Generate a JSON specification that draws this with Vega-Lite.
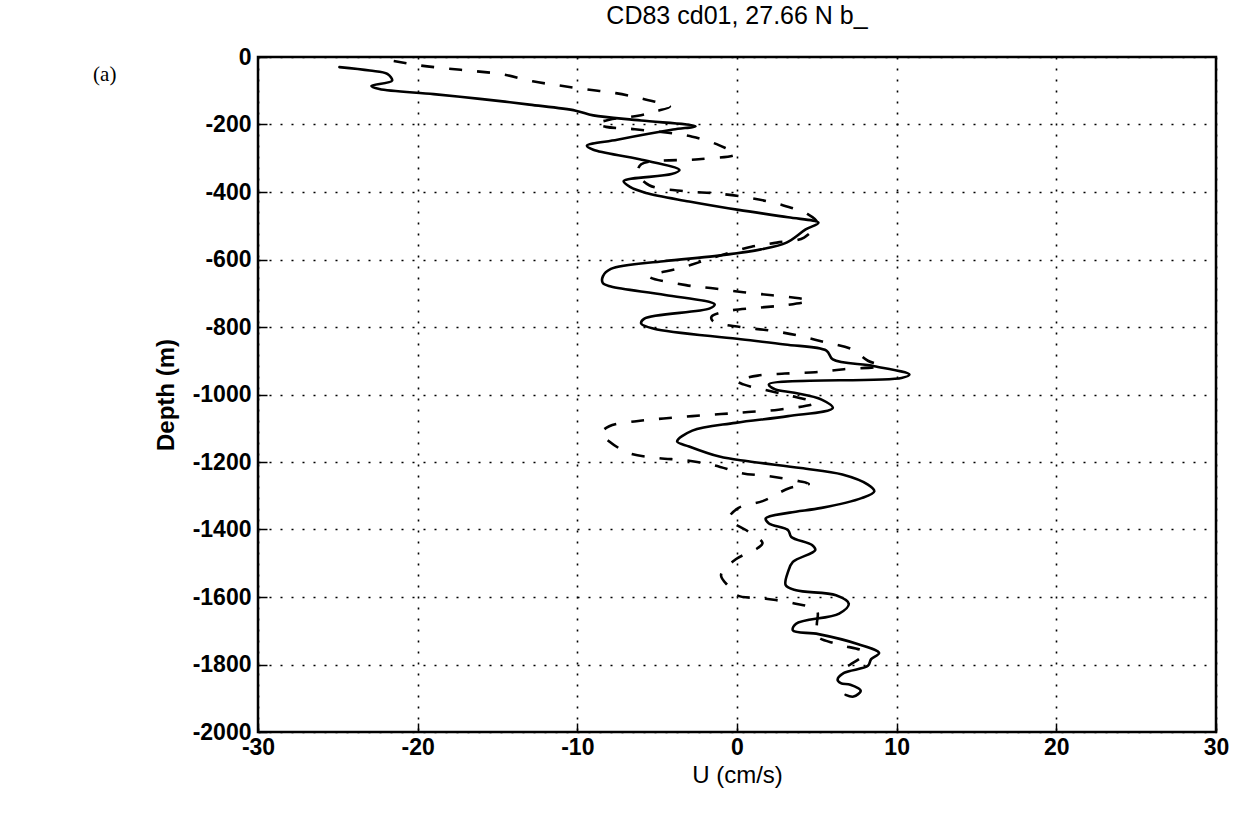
{
  "$schema": "https://vega.github.io/schema/vega-lite/v6.json",
  "autosize": "none",
  "width": 958,
  "height": 675,
  "padding": {"left": 258, "top": 57, "right": 25, "bottom": 81},
  "background": "white",
  "config": {
    "view": {"stroke": "black", "strokeWidth": 2.5},
    "font": "Liberation Sans"
  },
  "title": {
    "text": "CD83 cd01, 27.66 N b_",
    "font": "Liberation Sans",
    "fontSize": 25,
    "fontWeight": "normal",
    "color": "black",
    "anchor": "middle",
    "frame": "group",
    "baseline": "bottom",
    "offset": -8
  },
  "datasets": {
    "profiles": [
      {"series": "solid", "u": -24.9, "depth": -30},
      {"series": "solid", "u": -23.0, "depth": -40},
      {"series": "solid", "u": -21.9, "depth": -50},
      {"series": "solid", "u": -21.6, "depth": -70},
      {"series": "solid", "u": -22.9, "depth": -86},
      {"series": "solid", "u": -22.4, "depth": -95},
      {"series": "solid", "u": -19.0, "depth": -110},
      {"series": "solid", "u": -16.1, "depth": -124},
      {"series": "solid", "u": -13.0, "depth": -141},
      {"series": "solid", "u": -10.1, "depth": -159},
      {"series": "solid", "u": -9.0, "depth": -173},
      {"series": "solid", "u": -6.0, "depth": -188},
      {"series": "solid", "u": -2.6, "depth": -205},
      {"series": "solid", "u": -4.0, "depth": -215},
      {"series": "solid", "u": -7.5, "depth": -245},
      {"series": "solid", "u": -9.4, "depth": -263},
      {"series": "solid", "u": -9.0, "depth": -275},
      {"series": "solid", "u": -6.1, "depth": -303},
      {"series": "solid", "u": -3.6, "depth": -335},
      {"series": "solid", "u": -4.1, "depth": -347},
      {"series": "solid", "u": -7.1, "depth": -368},
      {"series": "solid", "u": -6.7, "depth": -385},
      {"series": "solid", "u": -5.7, "depth": -403},
      {"series": "solid", "u": -3.0, "depth": -428},
      {"series": "solid", "u": 0.1, "depth": -453},
      {"series": "solid", "u": 3.2, "depth": -475},
      {"series": "solid", "u": 5.1, "depth": -491},
      {"series": "solid", "u": 4.3, "depth": -511},
      {"series": "solid", "u": 3.1, "depth": -550},
      {"series": "solid", "u": 1.5, "depth": -570},
      {"series": "solid", "u": -1.4, "depth": -590},
      {"series": "solid", "u": -4.6, "depth": -605},
      {"series": "solid", "u": -7.9, "depth": -628},
      {"series": "solid", "u": -8.4, "depth": -650},
      {"series": "solid", "u": -8.4, "depth": -670},
      {"series": "solid", "u": -7.9, "depth": -680},
      {"series": "solid", "u": -4.5, "depth": -705},
      {"series": "solid", "u": -1.4, "depth": -733},
      {"series": "solid", "u": -1.7, "depth": -745},
      {"series": "solid", "u": -5.8, "depth": -775},
      {"series": "solid", "u": -6.0, "depth": -790},
      {"series": "solid", "u": -5.2, "depth": -805},
      {"series": "solid", "u": 0.0, "depth": -835},
      {"series": "solid", "u": 3.0, "depth": -852},
      {"series": "solid", "u": 5.6, "depth": -870},
      {"series": "solid", "u": 6.0, "depth": -896},
      {"series": "solid", "u": 8.6, "depth": -916},
      {"series": "solid", "u": 10.8, "depth": -941},
      {"series": "solid", "u": 10.3, "depth": -951},
      {"series": "solid", "u": 2.0, "depth": -970},
      {"series": "solid", "u": 2.4, "depth": -985},
      {"series": "solid", "u": 3.6, "depth": -995},
      {"series": "solid", "u": 5.3, "depth": -1015},
      {"series": "solid", "u": 6.0, "depth": -1040},
      {"series": "solid", "u": 3.2, "depth": -1064},
      {"series": "solid", "u": -0.1, "depth": -1084},
      {"series": "solid", "u": -2.8, "depth": -1107},
      {"series": "solid", "u": -3.75, "depth": -1139},
      {"series": "solid", "u": -3.0, "depth": -1154},
      {"series": "solid", "u": -1.1, "depth": -1184},
      {"series": "solid", "u": 0.7, "depth": -1198},
      {"series": "solid", "u": 4.0, "depth": -1218},
      {"series": "solid", "u": 6.6, "depth": -1237},
      {"series": "solid", "u": 8.2, "depth": -1267},
      {"series": "solid", "u": 8.6, "depth": -1287},
      {"series": "solid", "u": 7.8, "depth": -1307},
      {"series": "solid", "u": 5.3, "depth": -1336},
      {"series": "solid", "u": 3.3, "depth": -1350},
      {"series": "solid", "u": 1.8, "depth": -1367},
      {"series": "solid", "u": 2.0, "depth": -1382},
      {"series": "solid", "u": 3.2, "depth": -1402},
      {"series": "solid", "u": 3.4, "depth": -1422},
      {"series": "solid", "u": 4.7, "depth": -1446},
      {"series": "solid", "u": 4.9, "depth": -1461},
      {"series": "solid", "u": 3.5, "depth": -1496},
      {"series": "solid", "u": 3.2, "depth": -1525},
      {"series": "solid", "u": 3.05, "depth": -1565},
      {"series": "solid", "u": 3.7, "depth": -1580},
      {"series": "solid", "u": 6.2, "depth": -1595},
      {"series": "solid", "u": 7.0, "depth": -1620},
      {"series": "solid", "u": 6.4, "depth": -1649},
      {"series": "solid", "u": 3.7, "depth": -1679},
      {"series": "solid", "u": 3.5, "depth": -1699},
      {"series": "solid", "u": 5.1, "depth": -1710},
      {"series": "solid", "u": 7.6, "depth": -1740},
      {"series": "solid", "u": 8.9, "depth": -1766},
      {"series": "solid", "u": 8.4, "depth": -1784},
      {"series": "solid", "u": 8.2, "depth": -1804},
      {"series": "solid", "u": 6.7, "depth": -1825},
      {"series": "solid", "u": 6.3, "depth": -1845},
      {"series": "solid", "u": 6.5, "depth": -1855},
      {"series": "solid", "u": 7.1, "depth": -1860},
      {"series": "solid", "u": 7.75, "depth": -1878},
      {"series": "solid", "u": 7.3, "depth": -1895},
      {"series": "solid", "u": 6.8, "depth": -1890},
      {"series": "dashed", "u": -21.5, "depth": -12},
      {"series": "dashed", "u": -20.0, "depth": -24},
      {"series": "dashed", "u": -18.2, "depth": -34},
      {"series": "dashed", "u": -16.4, "depth": -42},
      {"series": "dashed", "u": -14.6, "depth": -52},
      {"series": "dashed", "u": -12.8, "depth": -72},
      {"series": "dashed", "u": -11.2, "depth": -84},
      {"series": "dashed", "u": -9.4, "depth": -96},
      {"series": "dashed", "u": -7.6, "depth": -107},
      {"series": "dashed", "u": -5.8, "depth": -125},
      {"series": "dashed", "u": -4.2, "depth": -147},
      {"series": "dashed", "u": -5.0, "depth": -160},
      {"series": "dashed", "u": -6.2, "depth": -174},
      {"series": "dashed", "u": -8.0, "depth": -186},
      {"series": "dashed", "u": -8.8, "depth": -198},
      {"series": "dashed", "u": -8.2, "depth": -207},
      {"series": "dashed", "u": -6.4, "depth": -214},
      {"series": "dashed", "u": -2.8, "depth": -236},
      {"series": "dashed", "u": -1.1, "depth": -262},
      {"series": "dashed", "u": -0.1, "depth": -288},
      {"series": "dashed", "u": -2.4, "depth": -303},
      {"series": "dashed", "u": -6.0, "depth": -318},
      {"series": "dashed", "u": -6.2, "depth": -345},
      {"series": "dashed", "u": -5.5, "depth": -380},
      {"series": "dashed", "u": -3.2, "depth": -398},
      {"series": "dashed", "u": -1.3, "depth": -404},
      {"series": "dashed", "u": 0.9, "depth": -418},
      {"series": "dashed", "u": 2.7, "depth": -437},
      {"series": "dashed", "u": 4.4, "depth": -465},
      {"series": "dashed", "u": 5.0, "depth": -490},
      {"series": "dashed", "u": 4.2, "depth": -535},
      {"series": "dashed", "u": 2.5, "depth": -550},
      {"series": "dashed", "u": 0.9, "depth": -562},
      {"series": "dashed", "u": -1.5, "depth": -595},
      {"series": "dashed", "u": -3.5, "depth": -625},
      {"series": "dashed", "u": -5.5, "depth": -650},
      {"series": "dashed", "u": -3.2, "depth": -676},
      {"series": "dashed", "u": -1.4, "depth": -686},
      {"series": "dashed", "u": 0.4, "depth": -697},
      {"series": "dashed", "u": 2.2, "depth": -706},
      {"series": "dashed", "u": 3.9, "depth": -715},
      {"series": "dashed", "u": 4.5, "depth": -722},
      {"series": "dashed", "u": 3.1, "depth": -735},
      {"series": "dashed", "u": 1.3, "depth": -743},
      {"series": "dashed", "u": -0.6, "depth": -753},
      {"series": "dashed", "u": -1.6, "depth": -770},
      {"series": "dashed", "u": -1.5, "depth": -783},
      {"series": "dashed", "u": 0.2, "depth": -800},
      {"series": "dashed", "u": 2.0, "depth": -810},
      {"series": "dashed", "u": 3.8, "depth": -825},
      {"series": "dashed", "u": 5.5, "depth": -845},
      {"series": "dashed", "u": 7.2, "depth": -866},
      {"series": "dashed", "u": 8.2, "depth": -900},
      {"series": "dashed", "u": 9.0, "depth": -915},
      {"series": "dashed", "u": 6.7, "depth": -925},
      {"series": "dashed", "u": 4.9, "depth": -934},
      {"series": "dashed", "u": 3.0, "depth": -938},
      {"series": "dashed", "u": 1.3, "depth": -944},
      {"series": "dashed", "u": 0.0, "depth": -960},
      {"series": "dashed", "u": 0.4, "depth": -970},
      {"series": "dashed", "u": 3.0, "depth": -1000},
      {"series": "dashed", "u": 4.9, "depth": -1025},
      {"series": "dashed", "u": 2.6, "depth": -1045},
      {"series": "dashed", "u": 0.7, "depth": -1052},
      {"series": "dashed", "u": -1.0, "depth": -1058},
      {"series": "dashed", "u": -2.8, "depth": -1064},
      {"series": "dashed", "u": -4.6, "depth": -1071},
      {"series": "dashed", "u": -6.3, "depth": -1079},
      {"series": "dashed", "u": -8.0, "depth": -1094},
      {"series": "dashed", "u": -8.5, "depth": -1115},
      {"series": "dashed", "u": -8.0, "depth": -1139},
      {"series": "dashed", "u": -6.8, "depth": -1173},
      {"series": "dashed", "u": -5.0, "depth": -1188},
      {"series": "dashed", "u": -3.2, "depth": -1195},
      {"series": "dashed", "u": -1.4, "depth": -1210},
      {"series": "dashed", "u": 0.3, "depth": -1233},
      {"series": "dashed", "u": 2.0, "depth": -1242},
      {"series": "dashed", "u": 3.9, "depth": -1257},
      {"series": "dashed", "u": 4.5, "depth": -1265},
      {"series": "dashed", "u": 3.3, "depth": -1277},
      {"series": "dashed", "u": 1.6, "depth": -1316},
      {"series": "dashed", "u": 0.1, "depth": -1336},
      {"series": "dashed", "u": -0.5, "depth": -1368},
      {"series": "dashed", "u": 0.7, "depth": -1406},
      {"series": "dashed", "u": 1.6, "depth": -1440},
      {"series": "dashed", "u": 1.3, "depth": -1455},
      {"series": "dashed", "u": -0.1, "depth": -1489},
      {"series": "dashed", "u": -1.0, "depth": -1535},
      {"series": "dashed", "u": -0.5, "depth": -1570},
      {"series": "dashed", "u": 0.0, "depth": -1595},
      {"series": "dashed", "u": 1.8, "depth": -1605},
      {"series": "dashed", "u": 3.6, "depth": -1619},
      {"series": "dashed", "u": 5.0, "depth": -1640},
      {"series": "dashed", "u": 5.0, "depth": -1680},
      {"series": "dashed", "u": 5.0, "depth": -1715},
      {"series": "dashed", "u": 6.3, "depth": -1740},
      {"series": "dashed", "u": 8.0, "depth": -1765},
      {"series": "dashed", "u": 7.1, "depth": -1800},
      {"series": "dashed", "u": 6.4, "depth": -1815}
    ],
    "panel": [
      {"label": "(a)", "u": -39.6, "depth": -53}
    ]
  },
  "layer": [
    {
      "data": {"name": "profiles"},
      "transform": [{"filter": "datum.series === 'solid'"}],
      "mark": {"type": "line", "color": "black", "strokeWidth": 2.6, "strokeJoin": "round", "strokeCap": "round", "interpolate": "catmull-rom"},
      "encoding": {
        "x": {
          "field": "u", "type": "quantitative",
          "scale": {"domain": [-30, 30], "nice": false, "zero": false},
          "axis": {
            "title": "U (cm/s)",
            "values": [-30, -20, -10, 0, 10, 20, 30],
            "format": "d",
            "labelExpr": "replace(datum.label, '\u2212', '-')",
            "grid": true,
            "gridColor": "black",
            "gridDash": [2, 9],
            "gridWidth": 1.6,
            "gridOpacity": 1,
            "domain": false,
            "ticks": true,
            "tickColor": "black",
            "tickSize": -9,
            "tickWidth": 1.5,
            "labelPadding": 13,
            "labelFlush": false,
            "labelOverlap": false,
            "labelBound": false,
            "labelFont": "Liberation Sans",
            "labelFontSize": 23,
            "labelFontWeight": "bold",
            "labelColor": "black",
            "titleFont": "Liberation Sans",
            "titleFontSize": 24,
            "titleFontWeight": "normal",
            "titleColor": "black",
            "titlePadding": 4
          }
        },
        "y": {
          "field": "depth", "type": "quantitative",
          "scale": {"domain": [-2000, 0], "nice": false, "zero": false},
          "axis": {
            "title": "Depth (m)",
            "values": [-2000, -1800, -1600, -1400, -1200, -1000, -800, -600, -400, -200, 0],
            "format": "d",
            "labelExpr": "replace(datum.label, '\u2212', '-')",
            "grid": true,
            "gridColor": "black",
            "gridDash": [2, 9],
            "gridWidth": 1.6,
            "gridOpacity": 1,
            "domain": false,
            "ticks": true,
            "tickColor": "black",
            "tickSize": -9,
            "tickWidth": 1.5,
            "labelPadding": 16,
            "labelOverlap": false,
            "labelBound": false,
            "labelFont": "Liberation Sans",
            "labelFontSize": 23,
            "labelFontWeight": "bold",
            "labelColor": "black",
            "titleFont": "Liberation Sans",
            "titleFontSize": 24,
            "titleFontWeight": "bold",
            "titleColor": "black",
            "titlePadding": 14
          }
        },
        "order": {"value": null}
      }
    },
    {
      "data": {"name": "profiles"},
      "transform": [{"filter": "datum.series === 'dashed'"}],
      "mark": {"type": "line", "color": "black", "strokeWidth": 2.6, "strokeDash": [13, 15], "interpolate": "catmull-rom"},
      "encoding": {
        "x": {"field": "u", "type": "quantitative"},
        "y": {"field": "depth", "type": "quantitative"},
        "order": {"value": null}
      }
    },
    {
      "data": {"name": "panel"},
      "mark": {"type": "text", "font": "Liberation Serif", "fontSize": 21, "color": "black", "align": "center", "baseline": "middle", "clip": false},
      "encoding": {
        "x": {"field": "u", "type": "quantitative"},
        "y": {"field": "depth", "type": "quantitative"},
        "text": {"field": "label"}
      }
    }
  ]
}
